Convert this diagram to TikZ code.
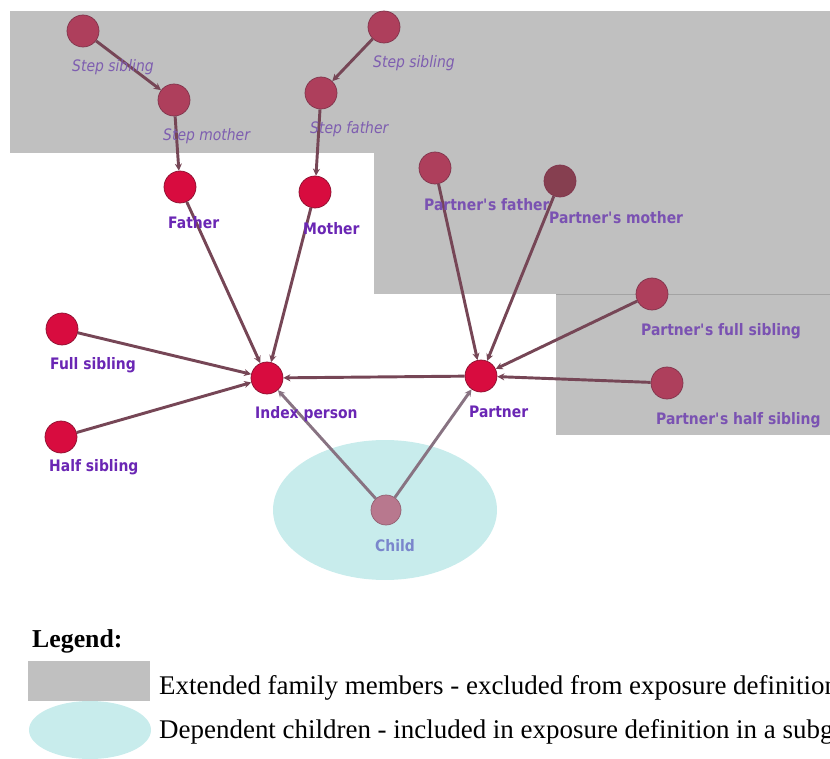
\documentclass[tikz,border=0pt]{standalone}
\usepackage{fontspec}
\setmainfont{Liberation Serif}
\setsansfont[FakeStretch=0.88]{DejaVu Sans}
\usepackage{xcolor}
\usetikzlibrary{shapes.geometric, arrows.meta, positioning, calc}

\definecolor{extgray}{HTML}{C0C0C0}
\definecolor{childzone}{HTML}{C8ECEC}
\definecolor{corered}{HTML}{D80C3F}
\definecolor{coreedge}{HTML}{8C1030}
\definecolor{extred}{HTML}{AE3F5C}
\definecolor{extedge}{HTML}{80344C}
\definecolor{pmothercol}{HTML}{863F50}
\definecolor{childcol}{HTML}{B8788E}
\definecolor{kincol}{HTML}{764656}
\definecolor{childkin}{HTML}{887382}
\definecolor{tagcol}{HTML}{6A26B4}
\definecolor{ptagcol}{HTML}{7A52B2}
\definecolor{steptagcol}{HTML}{7E5EB0}
\definecolor{childtag}{HTML}{7A86CC}

\begin{document}
\begin{tikzpicture}[x=0.03cm, y=-0.03cm,
    person/.style={circle, minimum size=0.96cm, inner sep=0pt, line width=0.6pt},
    core/.style={person, fill=corered, draw=coreedge},
    ext/.style={person, fill=extred, draw=extedge},
    kin/.style={draw=kincol, line width=2.5pt, -{Stealth[length=6pt, width=6pt]}},
    tag/.style={font=\sffamily\bfseries\fontsize{13.5}{14}\selectfont, text=tagcol, inner sep=0pt, anchor=west},
    steptag/.style={tag, font=\sffamily\itshape\fontsize{13.5}{14}\selectfont, text=steptagcol},
    keytext/.style={font=\fontsize{23}{24}\selectfont, inner sep=0pt, anchor=base west}]
\useasboundingbox (0,0) rectangle (830,759);
\clip (0,0) rectangle (830,759);

% excluded and included zones
\fill[extgray] (10,11) rectangle (830,153);
\fill[extgray] (374,153) rectangle (830,294);
\fill[extgray] (556,294) rectangle (830,435);
\draw[extgray!85!black, line width=0.4pt] (556,294) -- (830,294);
\fill[childzone] (385,510) ellipse (112 and 70);

% people
\foreach \n/\x/\y in {father/180/187, mother/315/192, fullsib/62/329, halfsib/61/437, index/267/378, partner/481/376}
    \node[core] (\n) at (\x,\y) {};
\foreach \n/\x/\y in {ssibA/83/31, smother/174/100, ssibB/384/27, sfather/321/93, pfather/435/168, pfull/652/294, phalf/667/383}
    \node[ext] (\n) at (\x,\y) {};
\node[ext, fill=pmothercol] (pmother) at (560,181) {};
\node[person, fill=childcol, draw=childcol!80!black, minimum size=0.9cm] (child) at (386,510) {};

% who points to whom
\foreach \a/\b in {ssibA/smother, ssibB/sfather, smother/father, sfather/mother, father/index, mother/index, fullsib/index, halfsib/index, partner/index, pfather/partner, pmother/partner, pfull/partner, phalf/partner}
    \draw[kin] (\a) -- (\b);
\foreach \b in {index, partner}
    \draw[kin, draw=childkin] (child) -- (\b);

% names
\foreach \n/\t/\d in {father/Father/36, mother/Mother/37, fullsib/Full sibling/36, halfsib/Half sibling/30, index/Index person/36, partner/Partner/36}
    \node[tag] (\n-tag) at ($(\n)+(-12,\d)$) {\t};
\foreach \n/\t in {pfather/Partner\textquotesingle s father, pmother/Partner\textquotesingle s mother, pfull/Partner\textquotesingle s full sibling, phalf/Partner\textquotesingle s half sibling}
    \node[tag, text=ptagcol] (\n-tag) at ($(\n)+(-11,37)$) {\t};
\foreach \n/\t in {ssibA/Step sibling, smother/Step mother, ssibB/Step sibling, sfather/Step father}
    \node[steptag] (\n-tag) at ($(\n)+(-11,36)$) {\t};
\node[tag, text=childtag] (child-tag) at ($(child)+(-11,36)$) {Child};

% legend
\node[keytext, font=\bfseries\fontsize{22}{24}\selectfont] (legend) at (32,647) {Legend:};
\node[fill=extgray, minimum width=3.66cm, minimum height=1.2cm, inner sep=0pt] (keyext) at (89,681) {};
\node[ellipse, fill=childzone, minimum width=3.66cm, minimum height=1.74cm, inner sep=0pt] (keychild) at (90,730) {};
\node[keytext] (keyext-text) at (159,694) {Extended family members - excluded from exposure definition};
\node[keytext] (keychild-text) at (159,738) {Dependent children - included in exposure definition in a subgroup};
\end{tikzpicture}
\end{document}
